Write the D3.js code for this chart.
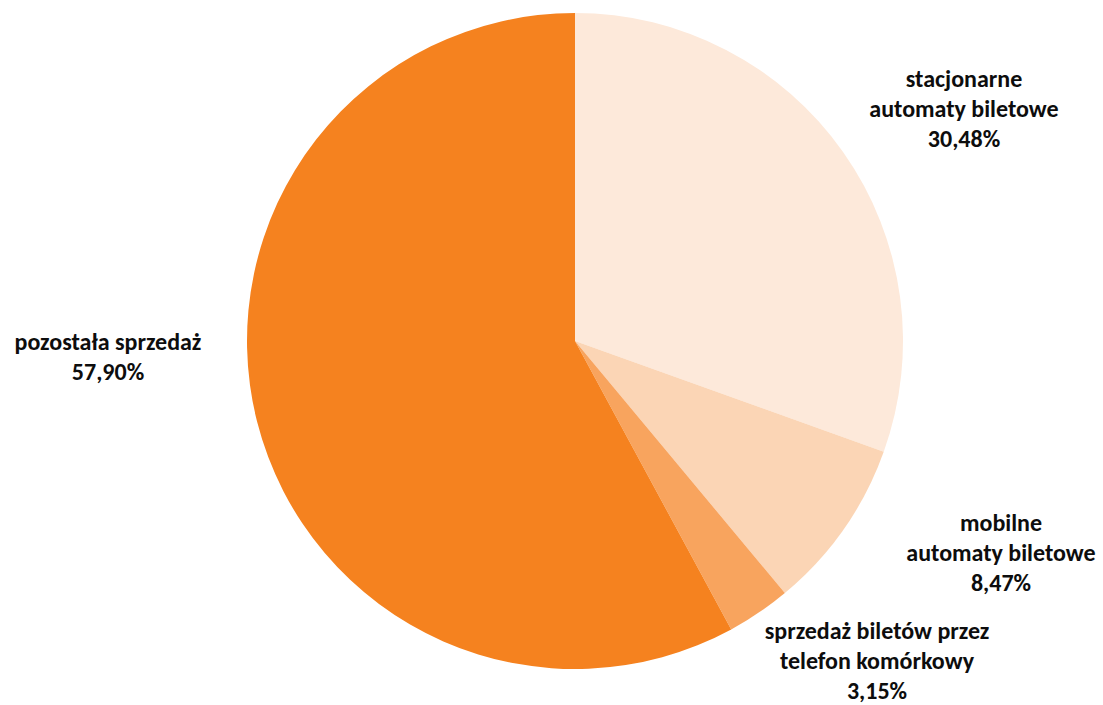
<!DOCTYPE html>
<html><head><meta charset="utf-8">
<script src="https://cdn.jsdelivr.net/npm/d3@7/dist/d3.min.js"></script>
<style>html,body{margin:0;padding:0;background:#fff;}</style>
</head><body>
<svg id="chart" width="1103" height="705"></svg>
<script>
const categories = [
  ["stacjonarne", "automaty biletowe"],
  ["mobilne", "automaty biletowe"],
  ["sprzedaż biletów przez", "telefon komórkowy"],
  ["pozostała sprzedaż"]
];
const values = [30.48, 8.47, 3.15, 57.90];
const valueLabels = ["30,48%", "8,47%", "3,15%", "57,90%"];
const colors = ["#FDE9DA", "#FBD5B5", "#F8A45E", "#F5821F"];

const W = 1103, H = 705;
const cx = 575, cy = 341, R = 328;
const svg = d3.select("#chart");
const g = svg.append("g").attr("transform", `translate(${cx},${cy})`);

const pie = d3.pie().sort(null).value(d => d)(values);
const arc = d3.arc().innerRadius(0).outerRadius(R);

g.selectAll("path").data(pie).enter().append("path")
  .attr("d", arc)
  .attr("fill", (d, i) => colors[i]);

// label centres (layout, relative to pie centre), first line baseline
const labelPos = [[389, -254], [426, 190], [302, 298], [-467, 9]];
const lineH = 30;
const lab = svg.append("g")
  .attr("font-family", "Carlito, Calibri, Lato, 'Open Sans', sans-serif")
  .attr("font-weight", "bold").attr("font-size", 24).attr("fill", "#0d0d0d")
  .attr("text-anchor", "middle");
pie.forEach((d, i) => {
  const lines = categories[i].concat([valueLabels[i]]);
  const t = lab.append("text")
    .attr("x", cx + labelPos[i][0]).attr("y", cy + labelPos[i][1]);
  lines.forEach((s, k) => {
    t.append("tspan").attr("x", cx + labelPos[i][0]).attr("dy", k === 0 ? 0 : lineH).text(s);
  });
});
</script>
</body></html>
